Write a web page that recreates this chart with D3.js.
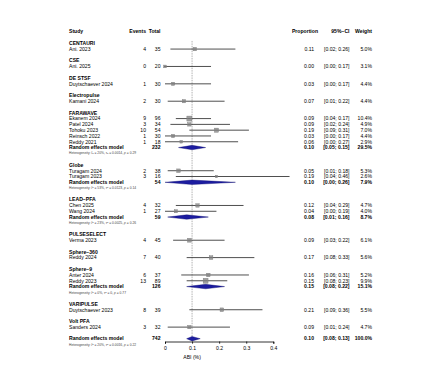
<!DOCTYPE html>
<html><head><meta charset="utf-8">
<script src="https://cdn.jsdelivr.net/npm/d3@7"></script>
<style>
html,body{margin:0;padding:0;background:#fff;}
svg{display:block;font-family:"Liberation Sans",Arial,Helvetica,sans-serif;}
</style></head><body>
<svg id="chart" width="440" height="377"></svg>
<script>
// ---------- data ----------
const groupNames = ["CENTAURI","CSE","DE STSF","Electropulse","FARAWAVE","Globe","LEAD\u2212PFA","PULSESELECT","Sphere\u2212360","Sphere\u22129","VARIPULSE","Volt PFA"];
const studyGroup = [0,1,2,3,4,4,4,4,4,5,5,6,6,7,8,9,9,10,11];
const studyNames = ["Ani. 2023","Ani. 2025","Duytschaever 2024","Kamani 2024","Ekanem 2024","Patel 2024","Tohoku 2023","Reinsch 2022","Reddy 2021","Turagam 2024","Turagam 2023","Chen 2025","Wang 2024","Verma 2023","Reddy 2024","Anter 2024","Reddy 2023","Duytschaever 2023","Sanders 2024"];
const studyEvents = [4,0,1,2,9,3,10,1,1,2,3,4,1,4,7,6,13,8,3];
const studyTotals = [35,20,30,30,96,34,54,30,18,38,16,32,27,45,40,37,89,39,32];
const studyProp = [0.11,0.00,0.03,0.07,0.09,0.09,0.19,0.03,0.06,0.05,0.19,0.12,0.04,0.09,0.17,0.16,0.15,0.21,0.09];
const studyLo = [0.02,0.00,0.00,0.01,0.04,0.02,0.09,0.00,0.00,0.01,0.04,0.04,0.00,0.03,0.08,0.06,0.08,0.09,0.01];
const studyHi = [0.26,0.17,0.17,0.22,0.17,0.24,0.31,0.17,0.27,0.18,0.46,0.29,0.19,0.22,0.33,0.31,0.23,0.36,0.24];
const studyWeight = [5.0,3.1,4.4,4.4,10.4,4.9,7.0,4.4,2.9,5.3,2.6,4.7,4.0,6.1,5.6,5.2,9.9,5.5,4.7];

// pooled subgroup results (only groups with more than one study)
const pooledGroup = [4,5,6,9];
const pooledTotal = [232,54,59,126];
const pooledProp = [0.10,0.10,0.08,0.15];
const pooledLo = [0.05,0.00,0.01,0.08];
const pooledHi = [0.15,0.26,0.16,0.22];
const pooledWeight = [29.5,7.9,8.7,15.1];
const pooledI2 = ["20%","53%","23%","0%"];
const pooledTau2 = ["0.0014","0.0123","0.0025","0"];
const pooledP = ["0.29","0.14","0.26","0.77"];

const overallTotal = 742, overallProp = 0.10, overallLo = 0.08, overallHi = 0.13, overallWeight = 100.0;
const overallI2 = "20%", overallTau2 = "0.0016", overallP = "0.22";

const xTicks = [0,0.1,0.2,0.3,0.4];
const xLabel = "ABI (%)";

// ---------- build rows ----------
const rows = [];
let r = 2;
groupNames.forEach((g,gi)=>{
  rows.push({type:"group", row:r++, label:g});
  studyGroup.forEach((sg,si)=>{ if(sg===gi) rows.push({type:"study", row:r++, i:si}); });
  const pi = pooledGroup.indexOf(gi);
  if(pi>=0){
    rows.push({type:"pooled", row:r++, total:pooledTotal[pi], est:pooledProp[pi], lo:pooledLo[pi], hi:pooledHi[pi], w:pooledWeight[pi]});
    rows.push({type:"het", row:r++, i2:pooledI2[pi], tau2:pooledTau2[pi], p:pooledP[pi]});
  }
  r++;
});
rows.push({type:"pooled", row:r++, total:overallTotal, est:overallProp, lo:overallLo, hi:overallHi, w:overallWeight});
rows.push({type:"het", row:r++, i2:overallI2, tau2:overallTau2, p:overallP});
const lastRow = r-2;

// ---------- scales ----------
const svg = d3.select("#chart");
const y = d3.scaleLinear().domain([0, lastRow]).range([31.7, 338.7]);
const x = d3.scaleLinear().domain([0,0.4]).range([165, 273.3]);
const fs = 5.1;
const colStudy = 69, colEvents = 146, colTotal = 160.5, colProp = 314, colCI = 349.5, colW = 372;
const f2 = d3.format(".2f");
const fw = v => d3.format(".1f")(v) + "%";

function txt(xp, yp, s, opts={}){
  return svg.append("text").attr("x", xp).attr("y", yp).attr("dy","0.35em")
    .attr("font-size", opts.size||fs).attr("font-weight", opts.bold?"bold":"normal")
    .attr("text-anchor", opts.anchor||"start").attr("fill", opts.fill||"#000").text(s);
}

// header
const hy = y(0);
txt(colStudy, hy, "Study", {bold:true});
txt(colEvents, hy, "Events", {bold:true, anchor:"end"});
txt(colTotal, hy, "Total", {bold:true, anchor:"end"});
txt(colProp+4, hy, "Proportion", {bold:true, anchor:"end"});
txt(colCI, hy, "95%\u2212CI", {bold:true, anchor:"end"});
txt(colW, hy, "Weight", {bold:true, anchor:"end"});

// reference (overall estimate) dotted line
svg.append("line").attr("x1", x(overallProp)).attr("x2", x(overallProp))
  .attr("y1", y(1.6)).attr("y2", 341.5)
  .attr("stroke","#555").attr("stroke-width",0.6).attr("stroke-dasharray","0.8,0.9");

rows.forEach(d=>{
  const yy = y(d.row);
  if(d.type==="group"){
    txt(colStudy, yy, d.label, {bold:true});
  } else if(d.type==="study"){
    const i = d.i;
    txt(colStudy, yy, studyNames[i]);
    txt(colEvents, yy, studyEvents[i], {anchor:"end"});
    txt(colTotal, yy, studyTotals[i], {anchor:"end"});
    txt(colProp, yy, f2(studyProp[i]), {anchor:"end"});
    txt(colCI, yy, "[" + f2(studyLo[i]) + "; " + f2(studyHi[i]) + "]", {anchor:"end"});
    txt(colW, yy, fw(studyWeight[i]), {anchor:"end"});
    svg.append("line").attr("x1", x(studyLo[i])).attr("x2", x(studyHi[i]))
      .attr("y1", yy).attr("y2", yy).attr("stroke","#222").attr("stroke-width",0.8);
    const s = 1.55*Math.sqrt(studyWeight[i]);
    svg.append("rect").attr("x", x(studyProp[i])-s/2).attr("y", yy-s/2)
      .attr("width", s).attr("height", s)
      .attr("fill","#a0a0a0").attr("stroke","#777").attr("stroke-width",0.4);
    svg.append("line").attr("x1", x(studyProp[i])-s/2+0.3).attr("x2", x(studyProp[i])+s/2-0.3)
      .attr("y1", yy).attr("y2", yy).attr("stroke","#444").attr("stroke-width",0.5);
  } else if(d.type==="pooled"){
    txt(colStudy, yy, "Random effects model", {bold:true});
    txt(colTotal, yy, d.total, {bold:true, anchor:"end"});
    txt(colProp, yy, f2(d.est), {bold:true, anchor:"end"});
    txt(colCI, yy, "[" + f2(d.lo) + "; " + f2(d.hi) + "]", {bold:true, anchor:"end"});
    txt(colW, yy, fw(d.w), {bold:true, anchor:"end"});
    const h = 2.2;
    const pts = [[x(d.lo),yy],[x(d.est),yy-h],[x(d.hi),yy],[x(d.est),yy+h]];
    svg.append("path").attr("d", d3.line()(pts) + "Z")
      .attr("fill","#1c1ca0").attr("stroke","#0a0a70").attr("stroke-width",0.4);
  } else if(d.type==="het"){
    const t = svg.append("text").attr("x", colStudy).attr("y", yy).attr("dy","0.35em")
      .attr("font-size", 3.3).attr("fill","#444");
    t.append("tspan").text("Heterogeneity: ");
    t.append("tspan").attr("font-style","italic").text("I");
    t.append("tspan").attr("font-size",2.3).attr("dy","-0.8").text("2");
    t.append("tspan").attr("dy","0.8").text(" = " + d.i2 + ", \u03c4");
    t.append("tspan").attr("font-size",2.3).attr("dy","-0.8").text("2");
    t.append("tspan").attr("dy","0.8").text(" = " + d.tau2 + ", ");
    t.append("tspan").attr("font-style","italic").text("p");
    t.append("tspan").text(" = " + d.p);
  }
});

// x axis
const axisY = 341.5;
const ax = svg.append("g").attr("transform", `translate(0,${axisY})`)
  .call(d3.axisBottom(x).tickValues(xTicks).tickFormat(d=> d===0 ? "0" : d3.format(".1f")(d)).tickSize(2.2).tickPadding(3));
ax.select(".domain").attr("stroke","#000").attr("stroke-width",0.8);
ax.selectAll(".tick line").attr("stroke","#000").attr("stroke-width",0.8);
ax.selectAll(".tick text").attr("font-size",fs).attr("fill","#000")
  .attr("font-family",'"Liberation Sans",Arial,sans-serif');
txt(x(0.1), 357.5, xLabel, {anchor:"middle"});
</script>
</body></html>
